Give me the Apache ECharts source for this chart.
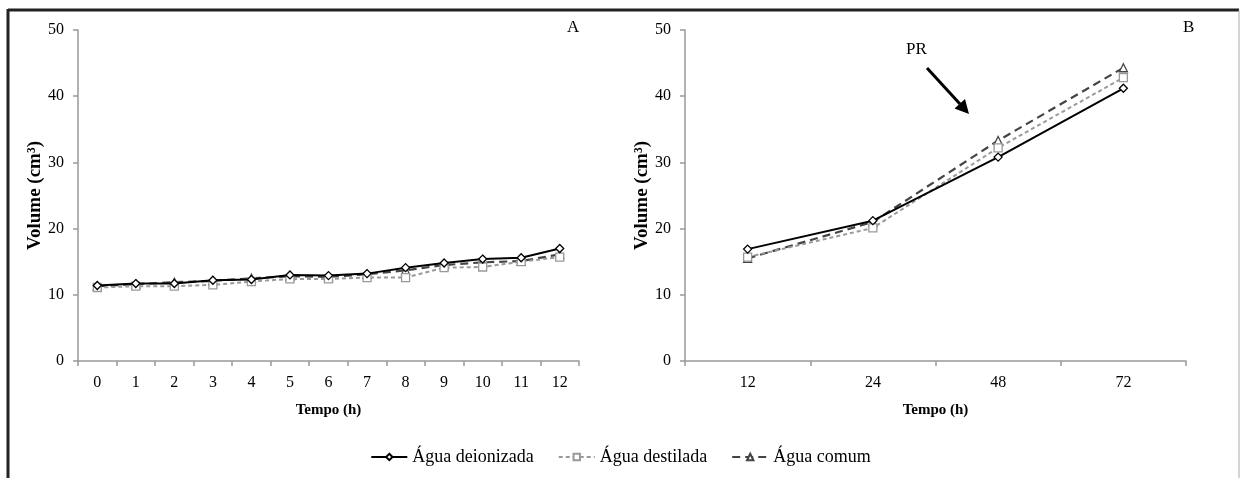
<!DOCTYPE html>
<html>
    <head>
        <meta charset="utf-8">
        <title>Volume x Tempo</title>
        <script src="https://cdn.jsdelivr.net/npm/echarts@6/dist/echarts.min.js"></script>
        <style>
            body{margin:0;background:#fff;}
        </style>
    </head>
    <body>
        <div id="chart" style="width:1241px;height:478px;"></div>
        <script type="text/javascript">
            // panel A: 0..12 h
            var horasA=['0','1','2','3','4','5','6','7','8','9','10','11','12'];
            var deionA=[11.4,11.7,11.7,12.2,12.3,13.0,12.9,13.2,14.1,14.8,15.4,15.6,17.0];
            var destilA=[11.1,11.3,11.3,11.5,12.0,12.4,12.4,12.6,12.6,14.1,14.2,15.0,15.7];
            var comumA=[11.3,11.6,11.9,12.1,12.5,12.8,12.7,13.1,13.7,14.5,14.9,15.1,16.1];
            // panel B: 12..72 h
            var horasB=['12','24','48','72'];
            var deionB=[16.9,21.2,30.8,41.2];
            var destilB=[15.7,20.1,32.2,42.8];
            var comumB=[15.5,21.0,33.3,44.3];
            var nomes=['Água deionizada','Água destilada','Água comum'];

            var fonte='"Liberation Serif", "DejaVu Serif", serif';
            var myChart=echarts.init(document.getElementById('chart'));

            function eixoX(idx,cats){
                return {type:'category',gridIndex:idx,data:cats,boundaryGap:true,
                    name:'Tempo (h)',nameLocation:'middle',nameGap:42,
                    nameTextStyle:{fontFamily:fonte,fontSize:15,fontWeight:'bold',color:'#000'},
                    axisLine:{lineStyle:{color:'#999',width:1.5}},
                    axisTick:{show:true,length:5,lineStyle:{color:'#999',width:1.5}},
                    axisLabel:{fontFamily:fonte,fontSize:16,color:'#000',margin:14},
                    splitLine:{show:false}};
            }
            function eixoY(idx){
                return {type:'value',gridIndex:idx,min:0,max:50,interval:10,
                    name:'Volume (cm³)',nameLocation:'middle',nameGap:31,
                    nameTextStyle:{fontFamily:fonte,fontSize:19,fontWeight:'bold',color:'#000'},
                    axisLine:{show:true,lineStyle:{color:'#999',width:1.5}},
                    axisTick:{show:true,length:5,lineStyle:{color:'#999',width:1.5}},
                    axisLabel:{fontFamily:fonte,fontSize:16,color:'#000',margin:14},
                    splitLine:{show:false}};
            }
            var estilos=[
                {cor:'#000',tipo:'solid',simb:'diamond',larg:2},
                {cor:'#999',tipo:[4,3],simb:'rect',larg:2},
                {cor:'#444',tipo:[8,5],simb:'triangle',larg:2.2}
            ];
            var Series=[];
            var dadosA=[deionA,destilA,comumA];
            var dadosB=[deionB,destilB,comumB];
            for(var i=0;i<3;i++){
                [[0,dadosA[i]],[1,dadosB[i]]].forEach(function(p){
                    Series.push({
                        name:nomes[i],type:'line',xAxisIndex:p[0],yAxisIndex:p[0],
                        data:p[1],symbol:estilos[i].simb,symbolSize:8,
                        lineStyle:{color:estilos[i].cor,type:estilos[i].tipo,width:estilos[i].larg},
                        itemStyle:{color:'#fff',borderColor:estilos[i].cor,borderWidth:1.3},
                        z:3-i,
                        emphasis:{disabled:true}
                    });
                });
            }

            var option={
                animation:false,
                textStyle:{fontFamily:fonte},
                grid:[
                    {left:78,top:30,width:501,height:331},
                    {left:685,top:30,width:501,height:331}
                ],
                xAxis:[eixoX(0,horasA),eixoX(1,horasB)],
                yAxis:[eixoY(0),eixoY(1)],
                legend:{
                    data:nomes,left:'center',top:443,itemWidth:36,itemHeight:8,itemGap:24,
                    textStyle:{fontFamily:fonte,fontSize:18,color:'#000'}
                },
                graphic:[
                    // moldura
                    {type:'line',shape:{x1:8,y1:10,x2:1239,y2:10},style:{stroke:'#222',lineWidth:3}},
                    {type:'line',shape:{x1:8,y1:9,x2:8,y2:478},style:{stroke:'#222',lineWidth:3}},
                    {type:'line',shape:{x1:1239,y1:10,x2:1239,y2:478},style:{stroke:'#aaa',lineWidth:1}},
                    // letras dos paineis
                    {type:'text',left:567,top:19,style:{text:'A',font:'17px '+fonte,fill:'#000'}},
                    {type:'text',left:1183,top:19,style:{text:'B',font:'17px '+fonte,fill:'#000'}},
                    // PR e seta
                    {type:'text',left:906,top:41,style:{text:'PR',font:'17px '+fonte,fill:'#000'}},
                    {type:'line',shape:{x1:927,y1:68,x2:960,y2:104},style:{stroke:'#000',lineWidth:3}},
                    {type:'polygon',shape:{points:[[969,114],[954.5,108.5],[965,99]]},style:{fill:'#000'}}
                ],
                series:Series
            };
            myChart.setOption(option);
        </script>
    </body>
</html>
